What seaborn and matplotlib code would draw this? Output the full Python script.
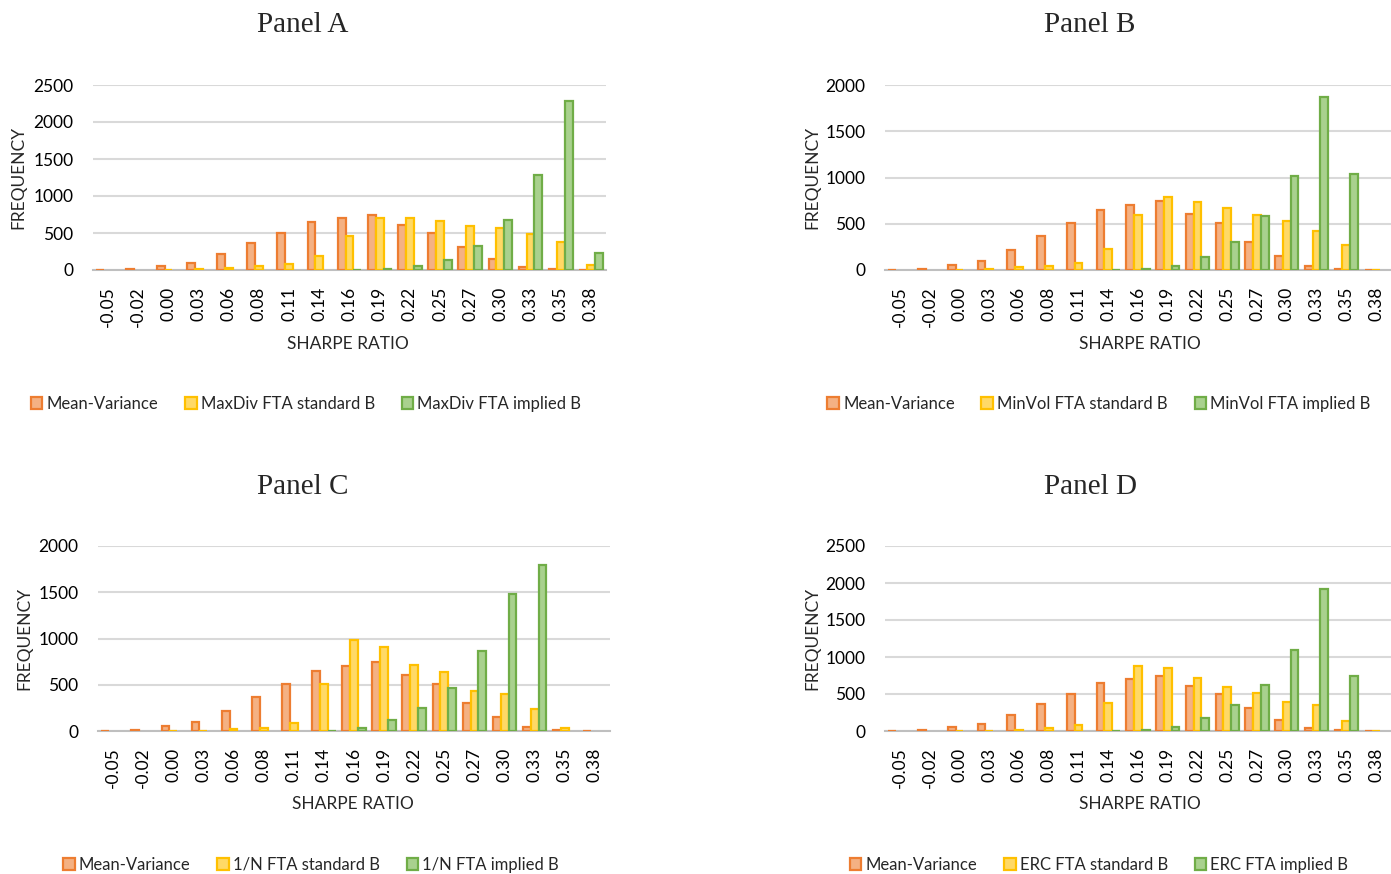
import matplotlib.pyplot as plt
import pandas as pd
import seaborn as sns
from matplotlib.patches import Patch

# sharpe ratio bins (x categories)
sharpe_bins = ["-0.05", "-0.02", "0.00", "0.03", "0.06", "0.08", "0.11", "0.14", "0.16",
               "0.19", "0.22", "0.25", "0.27", "0.30", "0.33", "0.35", "0.38"]

# same mean-variance histogram in every panel
mean_variance = [5, 15, 50, 100, 220, 365, 505, 645, 700, 750, 610, 505, 305, 150, 40, 8, 5]

# Panel A
maxdiv_standard = [0, 0, 5, 10, 30, 50, 75, 185, 465, 700, 700, 660, 590, 565, 490, 380, 70]
maxdiv_implied = [0, 0, 0, 0, 0, 0, 0, 0, 5, 10, 55, 135, 325, 670, 1280, 2290, 230]

# Panel B
minvol_standard = [0, 0, 5, 8, 30, 45, 75, 230, 595, 785, 735, 665, 600, 525, 425, 265, 5]
minvol_implied = [0, 0, 0, 0, 0, 0, 0, 3, 10, 45, 140, 300, 580, 1020, 1865, 1035, 0]

# Panel C
equal_standard = [0, 0, 5, 5, 20, 30, 85, 510, 985, 910, 715, 635, 430, 400, 235, 30, 0]
equal_implied = [0, 0, 0, 0, 0, 0, 0, 5, 30, 120, 245, 465, 860, 1485, 1790, 0, 0]

# Panel D
erc_standard = [0, 0, 5, 5, 20, 35, 75, 385, 875, 855, 715, 600, 515, 395, 345, 140, 5]
erc_implied = [0, 0, 0, 0, 0, 0, 0, 5, 15, 60, 180, 350, 615, 1090, 1925, 745, 0]

fills = ["#F4B183", "#FFD966", "#A9D18E"]
edges = ["#ED7D31", "#FFC000", "#70AD47"]

W, H = 1391, 874
sns.set_theme(style="white")
plt.rcParams['font.family'] = ['Lato', 'DejaVu Sans']


def draw_panel(fig, rect, title, names, series, ymax, title_xy, ylab_x, xlab_xy, leg_xy):
    x0, x1, y_top, y_bot = rect
    ax = fig.add_axes([x0 / W, 1 - y_bot / H, (x1 - x0) / W, (y_bot - y_top) / H])
    df = pd.DataFrame({
        "bin": sharpe_bins * 3,
        "freq": [v for s in series for v in s],
        "portfolio": [n for n in names for _ in sharpe_bins],
    })
    sns.barplot(data=df, x="bin", y="freq", hue="portfolio", order=sharpe_bins, hue_order=names,
                palette=fills, saturation=1, width=0.78, errorbar=None, linewidth=1.6,
                legend=False, ax=ax, zorder=3)
    for container, edge in zip(ax.containers, edges):
        for bar in container:
            bar.set_edgecolor(edge)
            if bar.get_height() == 0:
                bar.set_visible(False)

    ax.set_ylim(0, ymax)
    ax.set_yticks(range(0, ymax + 1, 500))
    ax.set_xlim(-0.5, len(sharpe_bins) - 0.5)
    ax.grid(axis="y", color="#D9D9D9", linewidth=1.5, zorder=0)
    ax.set_axisbelow(True)
    for side in ["top", "right", "left"]:
        ax.spines[side].set_visible(False)
    ax.spines["bottom"].set_color("#BFBFBF")
    ax.spines["bottom"].set_linewidth(1.5)
    ax.tick_params(axis="both", length=0, labelsize=12.5, colors="#000000")
    ax.tick_params(axis="x", rotation=90, pad=12)
    ax.tick_params(axis="y", pad=14)

    ax.set_xlabel("SHARPE RATIO", fontsize=12.5)
    ax.set_ylabel("FREQUENCY", fontsize=12.5)
    ax.xaxis.set_label_coords(xlab_xy[0] / W, 1 - xlab_xy[1] / H, transform=fig.transFigure)
    ax.yaxis.set_label_coords(ylab_x / W, 1 - (y_top + y_bot) / 2 / H, transform=fig.transFigure)

    fig.text(title_xy[0] / W, 1 - title_xy[1] / H, title, ha="center", va="center",
             fontsize=21, family=["Liberation Serif"])

    handles = [Patch(facecolor=f, edgecolor=e, linewidth=1.6) for f, e in zip(fills, edges)]
    ax.legend(handles, names, loc="center", bbox_to_anchor=(leg_xy[0] / W, 1 - leg_xy[1] / H),
              bbox_transform=fig.transFigure, ncol=3, frameon=False, fontsize=12,
              handlelength=0.7, handleheight=0.7, handletextpad=0.25, columnspacing=1.6)
    return ax


fig = plt.figure(figsize=(W / 100, H / 100), dpi=100)

draw_panel(fig, (93, 606, 85, 270), "Panel A",
           ["Mean-Variance", "MaxDiv FTA standard B", "MaxDiv FTA implied B"],
           [mean_variance, maxdiv_standard, maxdiv_implied], 2500,
           (303, 25), 26, (348, 336), (306, 404))
draw_panel(fig, (885, 1391, 85, 270), "Panel B",
           ["Mean-Variance", "MinVol FTA standard B", "MinVol FTA implied B"],
           [mean_variance, minvol_standard, minvol_implied], 2000,
           (1090, 25), 820, (1140, 336), (1099, 404))
draw_panel(fig, (98, 610, 546, 731), "Panel C",
           ["Mean-Variance", "1/N FTA standard B", "1/N FTA implied B"],
           [mean_variance, equal_standard, equal_implied], 2000,
           (303, 487), 32, (353, 796), (311, 865))
draw_panel(fig, (885, 1391, 546, 731), "Panel D",
           ["Mean-Variance", "ERC FTA standard B", "ERC FTA implied B"],
           [mean_variance, erc_standard, erc_implied], 2500,
           (1090, 487), 820, (1140, 796), (1099, 865))

fig.savefig("out.png", dpi=100)
